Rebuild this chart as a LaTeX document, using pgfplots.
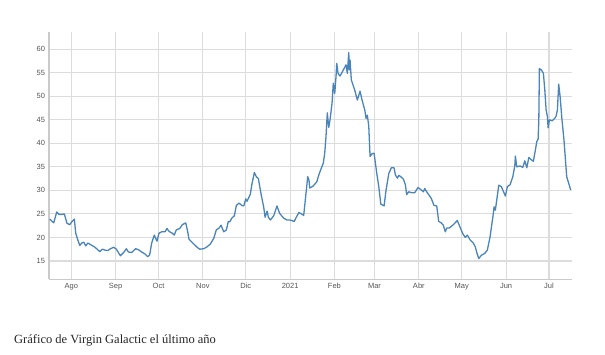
\documentclass[border=0pt]{standalone}
\usepackage{fontspec}
\setmainfont{Liberation Serif}
\setsansfont{Liberation Sans}
\usepackage{pgfplots}
\pgfplotsset{compat=1.18}
\definecolor{lineblue}{HTML}{4A85BA}
\definecolor{gridgray}{HTML}{DCDCDC}
\definecolor{axisgray}{HTML}{CACACA}
\definecolor{ticktext}{HTML}{555555}
\begin{document}
\begin{tikzpicture}[x=1pt,y=1pt]
\useasboundingbox (-49,-75.7) rectangle (556,279.3);
\begin{axis}[at={(0,0)}, anchor=south west, scale only axis,
  width=523pt, height=247.6pt,
  xmin=-15.6, xmax=350.1, ymin=11.1, ymax=63.74,
  axis lines*=left,
  axis line style={axisgray, line width=1.4pt},
  major tick length=0pt,
  xtick={0,31,61,92,122,153,184,212,243,273,304,334},
  xticklabels={Ago,Sep,Oct,Nov,Dic,2021,Feb,Mar,Abr,May,Jun,Jul},
  ytick={15,20,25,30,35,40,45,50,55,60},
  grid=major,
  major grid style={gridgray, line width=1.1pt},
  tick label style={font=\sffamily\fontsize{7.5}{9}\selectfont, text=ticktext},
  /pgf/number format/assume math mode=true,
  yticklabel style={xshift=-0.5pt},
  xticklabel style={yshift=-0.5pt},
]
\addplot[lineblue, line width=1.3pt, line join=round] coordinates {
(-15.1,23.9) (-12.3,23.1) (-10.2,25.4) (-8.6,24.9) (-6.3,24.9) (-4.9,25.0)
(-3.0,23.0) (-1.1,22.7) (0.3,23.3) (2.1,23.9) (3.1,20.9) (4.5,19.5)
(5.9,18.3) (7.3,18.8) (8.7,19.0) (10.1,18.2) (11.5,18.8) (13.3,18.5)
(16.6,17.9) (19.9,17.0) (21.7,17.5) (23.6,17.3) (25.5,17.2) (27.3,17.6)
(29.7,17.9) (31.5,17.5) (34.3,16.1) (36.6,16.8) (38.5,17.6) (39.9,16.9)
(42.2,16.8) (45.0,17.6) (46.9,17.4) (49.2,16.9) (51.5,16.5) (53.4,15.9)
(54.8,16.3) (56.2,18.8) (58.0,20.5) (59.0,19.8) (59.9,19.2) (61.3,20.9)
(63.2,21.2) (65.5,21.2) (66.9,21.9) (68.3,21.3) (70.6,20.9) (72.0,20.5)
(73.4,21.6) (75.8,21.9) (77.6,22.7) (80.0,23.1) (81.4,21.2) (82.3,19.6)
(85.6,18.6) (88.4,17.8) (89.8,17.5) (92.6,17.6) (94.9,18.0) (97.2,18.6)
(99.6,19.8) (101.4,21.6) (103.3,22.0) (104.7,22.6) (106.6,21.2) (108.4,21.6)
(109.8,23.4) (110.8,23.3) (112.2,24.1) (114.0,24.6) (115.4,26.8) (117.3,27.3)
(119.2,26.8) (120.6,26.7) (122.0,28.2) (122.9,27.7) (125.2,29.2) (126.2,31.2)
(128.0,33.8) (129.4,32.9) (130.8,32.5) (132.7,29.2) (134.5,26.5) (135.5,24.3)
(136.9,25.6) (137.8,24.3) (139.2,23.7) (141.5,24.6) (143.8,26.7) (145.7,25.1)
(148.5,24.1) (150.8,23.7) (153.1,23.7) (155.9,23.4) (157.3,24.3) (159.2,25.3)
(162.5,24.7) (163.9,28.8) (165.3,32.9) (166.2,32.2) (166.7,30.5) (169.0,30.9)
(171.6,31.8) (173.4,33.6) (176.2,35.8) (177.2,37.9) (178.1,41.5) (179.0,46.5)
(180.0,43.4) (180.9,45.0) (182.3,48.5) (183.2,52.8) (184.2,50.6) (185.1,54.2)
(185.6,57.0) (186.5,54.9) (187.9,54.3) (190.2,55.6) (192.1,56.7) (193.0,54.9)
(194.0,59.3) (194.4,55.6) (194.9,57.7) (195.8,53.5) (198.2,51.3) (200.0,49.2)
(201.9,51.1) (203.3,49.2) (205.2,47.1) (206.1,45.3) (207.0,46.0) (208.0,43.6)
(208.9,37.2) (210.3,37.8) (211.7,37.9) (213.6,33.6) (215.0,30.8) (216.4,27.1)
(218.7,26.7) (220.1,30.1) (222.0,33.6) (223.8,34.8) (225.7,34.8) (226.6,33.3)
(228.0,32.6) (229.0,33.2) (230.4,32.9) (232.2,32.4) (233.6,31.2) (234.5,29.1)
(235.9,29.7) (238.2,29.5) (240.1,29.5) (242.4,30.6) (244.3,30.2) (246.2,29.7)
(247.1,30.4) (248.5,29.7) (249.9,29.1) (251.7,28.3) (253.6,26.8) (255.5,26.7)
(256.9,23.4) (258.7,23.1) (260.1,22.6) (261.5,21.2) (262.5,22.0) (264.3,22.0)
(267.1,22.7) (269.9,23.6) (271.8,22.2) (273.7,20.8) (275.5,20.0) (276.9,20.5)
(278.8,19.5) (281.1,18.8) (282.5,18.0) (283.5,16.8) (284.9,15.5) (286.7,16.2)
(289.1,16.6) (290.9,17.3) (292.8,20.1) (295.1,25.1) (295.6,26.5) (296.5,25.8)
(297.5,28.0) (298.9,31.1) (300.7,30.8) (303.5,28.8) (304.9,30.8) (306.8,31.2)
(308.7,32.9) (310.1,35.2) (310.5,37.3) (311.5,35.0) (313.8,35.2) (315.7,34.9)
(317.1,36.3) (318.5,34.8) (319.9,37.0) (321.7,36.5) (323.1,36.2) (324.5,38.6)
(325.5,40.4) (326.4,40.9) (326.9,45.0) (327.3,55.9) (328.7,55.6) (330.1,54.9)
(331.1,51.3) (332.0,47.1) (332.9,45.7) (333.4,43.3) (334.3,45.0) (336.2,44.8)
(338.0,45.3) (339.0,45.8) (339.9,47.1) (340.8,52.6) (341.8,49.9) (343.1,45.0)
(344.5,40.7) (346.4,32.9) (347.8,31.5) (349.2,30.1)
};
\end{axis}
\node[anchor=base west, inner sep=0pt, font=\fontsize{12.5}{15}\selectfont, text=black!85] at (-35,-64) {Gráfico de Virgin Galactic el último año};
\end{tikzpicture}
\end{document}
